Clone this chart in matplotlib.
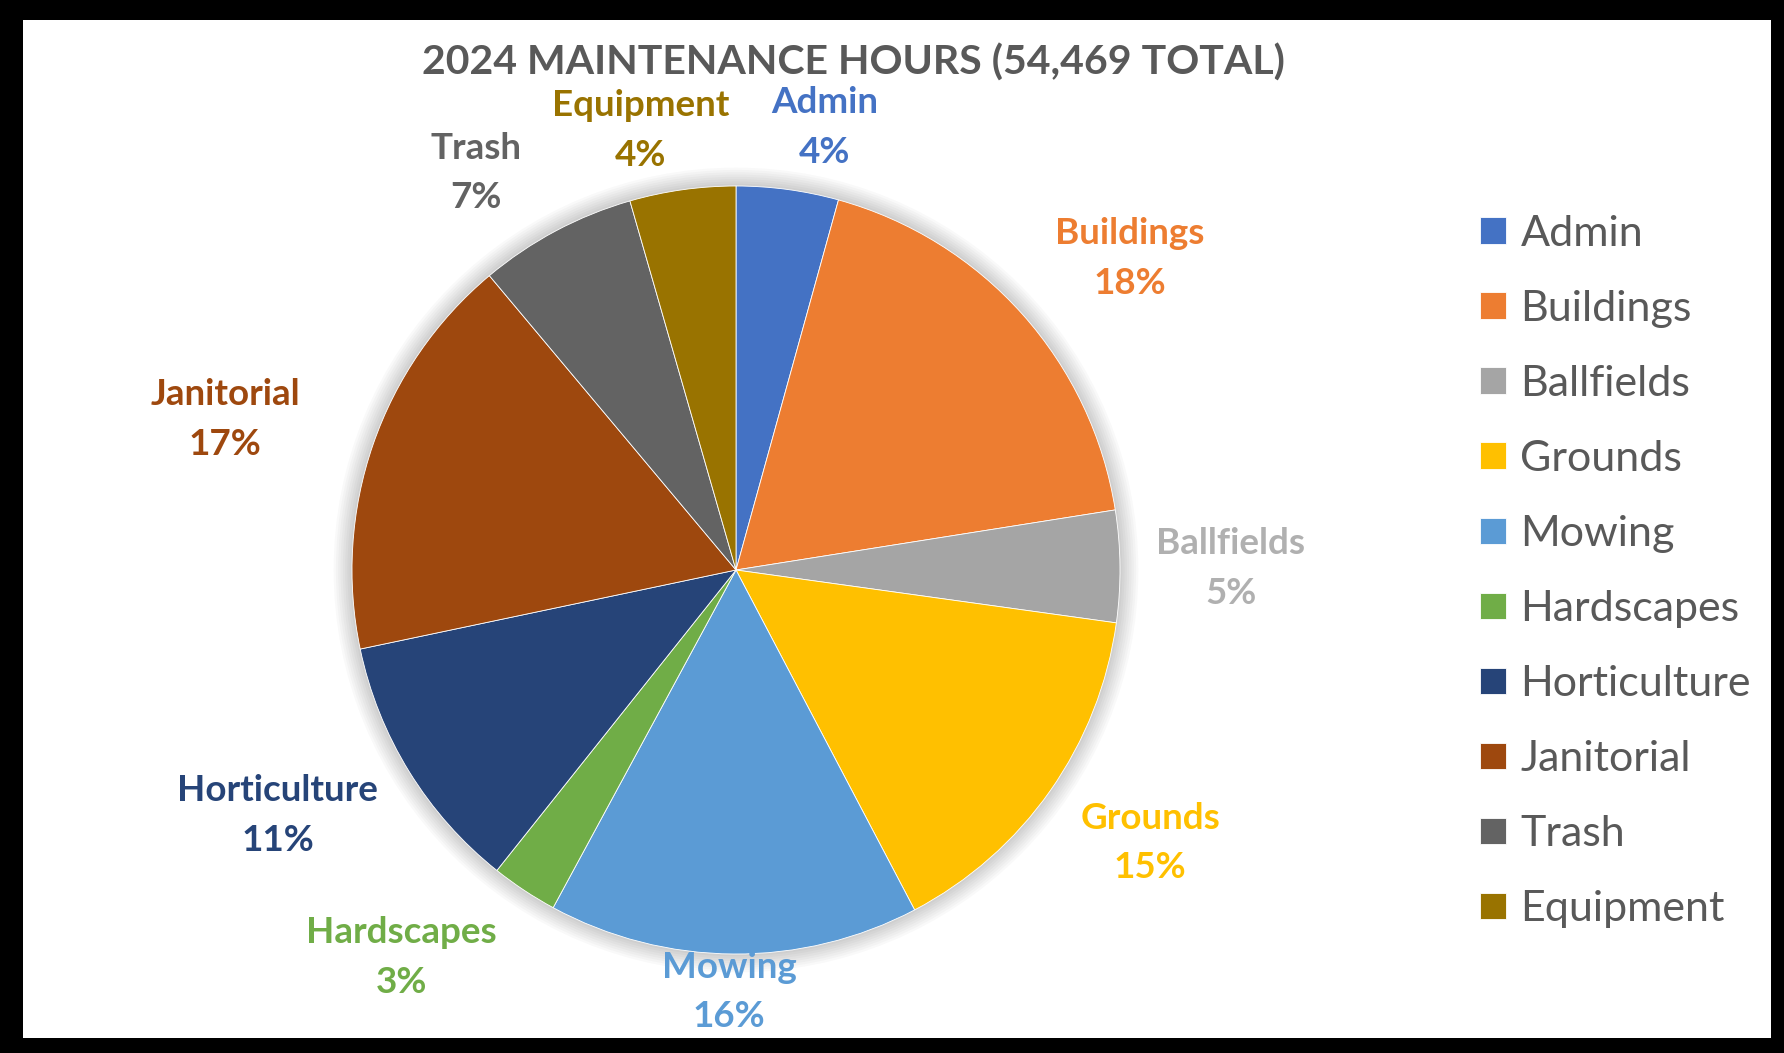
"""
2024 maintenance hours pie chart, recreated from an Excel export.
Saves out.png (1784x1053).
"""

import matplotlib
matplotlib.use("Agg")
import matplotlib.pyplot as plt
from matplotlib.patches import Rectangle, Circle

plt.rcParams["font.family"] = ["Lato", "DejaVu Sans"]

# data
CATEGORIES = ["Admin", "Buildings", "Ballfields", "Grounds", "Mowing",
              "Hardscapes", "Horticulture", "Janitorial", "Trash", "Equipment"]
HOURS = [2342, 9913, 2560, 8225, 8497, 1525, 5992, 9369, 3620, 2426]

COLORS = ["#4472C4", "#ED7D31", "#A5A5A5", "#FFC000", "#5B9BD5",
          "#70AD47", "#264478", "#9E480E", "#636363", "#997300"]
LABEL_COLORS = ["#4472C4", "#ED7D31", "#B0B0B0", "#FFC000", "#5B9BD5",
                "#70AD47", "#264478", "#9E480E", "#636363", "#997300"]

# label centres in pie units (radius = 1), Excel "best fit" placement
LABEL_POS = [(0.230, 1.153), (1.025, 0.812), (1.289, 0.003), (1.079, -0.711),
             (-0.018, -1.099), (-0.871, -1.010), (-1.194, -0.640),
             (-1.330, 0.391), (-0.676, 1.034), (-0.249, 1.144)]

W, H = 1784, 1053
DPI = 100
TEXT_GRAY = "#595959"

fig = plt.figure(figsize=(W / DPI, H / DPI), dpi=DPI)
fig.patch.set_facecolor("black")

# white panel inside the black frame
fig.patches.append(Rectangle((23 / W, 15 / H), (1771 - 23) / W, (H - 20 - 15) / H,
                             transform=fig.transFigure, facecolor="white",
                             edgecolor="none", zorder=-5))

# pie axes: centre (736, 570) px, radius 384 px
cx, cy, r = 736, 570, 384
span = 1.25
ax = fig.add_axes([(cx - r * span) / W, (H - cy - r * span) / H,
                   2 * r * span / W, 2 * r * span / H])
ax.set_facecolor("none")
ax.set_zorder(2)

# soft shadow around the pie
for i in range(8):
    ax.add_patch(Circle((0, 0), 1.0 + 0.006 * (i + 1), facecolor="#000000",
                        alpha=0.025, edgecolor="none", zorder=0))

total = sum(HOURS)
wedges, _ = ax.pie(HOURS, colors=COLORS, startangle=90, counterclock=False,
                   radius=1.0, wedgeprops={"edgecolor": "white", "linewidth": 0.6})

for cat, h, (lx, ly), c in zip(CATEGORIES, HOURS, LABEL_POS, LABEL_COLORS):
    pct = round(100 * h / total)
    ax.text(lx, ly, f"{cat}\n{pct}%", ha="center", va="center",
            multialignment="center", fontsize=26.5, fontweight="bold",
            color=c, linespacing=1.62)

ax.set_xlim(-span, span)
ax.set_ylim(-span, span)
ax.set_aspect("equal")
ax.axis("off")

fig.text(853 / W, 1 - 63 / H, f"2024 MAINTENANCE HOURS ({total:,} TOTAL)",
         ha="center", va="center", fontsize=29.5, fontweight="bold",
         color=TEXT_GRAY, zorder=3)

fs = 31
leg = fig.legend(wedges, CATEGORIES, loc="upper left",
                 bbox_to_anchor=(1480 / W, 1 - 215 / H), frameon=False,
                 fontsize=fs, borderpad=0, borderaxespad=0,
                 handlelength=0.6, handleheight=0.58, handletextpad=0.34,
                 labelspacing=0.86)
leg.set_zorder(3)
for t in leg.get_texts():
    t.set_color(TEXT_GRAY)

fig.savefig("out.png", dpi=DPI, facecolor=fig.get_facecolor())
